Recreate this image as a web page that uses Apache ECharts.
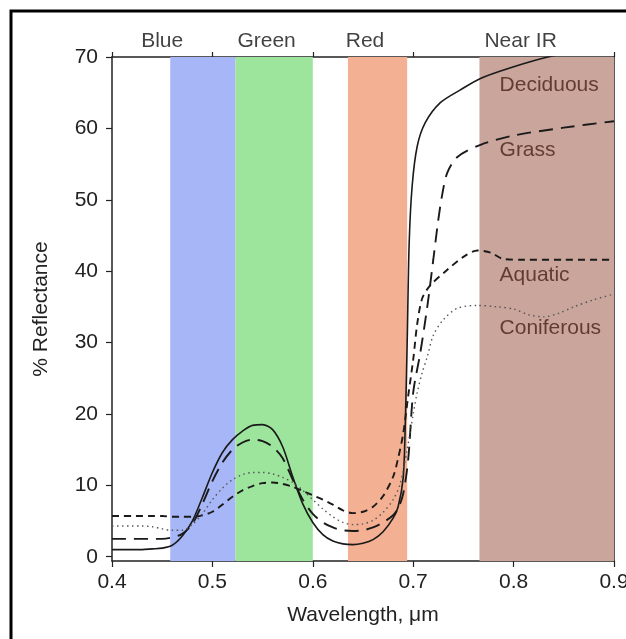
<!DOCTYPE html>
<html>
<head>
<meta charset="utf-8">
<script src="https://cdn.jsdelivr.net/npm/echarts@6/dist/echarts.min.js"></script>
<style>
html,body{margin:0;padding:0;background:#fff;}
#c{width:626px;height:639px;}
</style>
</head>
<body>
<div id="c"></div>
<script>
// ---- data ----
var bandNames = ['Blue', 'Green', 'Red', 'Near IR'];
var bandLabelX = [0.45, 0.554, 0.652, 0.807];
var bandLabelY = [72.2, 72.2, 72.2, 72.2];
var colorBandStart = [0.458, 0.523, 0.635, 0.766];
var colorBandEnd = [0.523, 0.600, 0.694, 0.900];
var topTicks = [0.4, 0.5, 0.6, 0.7, 0.9];
var yTicks = [0, 10, 20, 30, 40, 50, 60, 70];

var decidX = [0.40,0.41,0.42,0.43,0.44,0.45,0.46,0.47,0.48,0.49,0.50,0.51,0.52,0.53,0.54,0.55,0.56,0.57,0.58,0.59,0.60,0.61,0.62,0.63,0.64,0.65,0.66,0.67,0.68,0.685,0.69,0.692,0.694,0.696,0.699,0.704,0.712,0.727,0.747,0.767,0.797,0.834,0.87,0.90];
var decidY = [1.0,1.0,1.0,1.0,1.1,1.2,1.6,2.9,5.0,8.3,11.8,14.6,16.4,17.6,18.4,18.5,17.8,15.4,11.2,7.4,4.8,3.1,2.2,1.8,1.7,1.9,2.4,3.5,5.4,7.0,11,18,30,44,52,57.5,60.8,63.6,65.4,67,68.5,70,71,72];

var grassX = [0.40,0.41,0.42,0.43,0.44,0.45,0.46,0.47,0.48,0.49,0.50,0.51,0.52,0.53,0.54,0.55,0.56,0.57,0.58,0.59,0.60,0.61,0.62,0.63,0.64,0.65,0.66,0.67,0.68,0.685,0.69,0.695,0.70,0.707,0.714,0.72,0.725,0.729,0.734,0.744,0.767,0.80,0.85,0.90];
var grassY = [2.5,2.5,2.5,2.5,2.5,2.5,2.7,3.2,4.6,7.4,10.6,13.2,15.0,16.0,16.4,16.2,15.4,13.8,10.8,8.0,6.0,4.8,4.1,3.7,3.6,3.7,4.1,4.8,5.8,6.8,8.8,13.6,23,28.5,35,41.6,47.2,50.8,53.8,56,57.7,59,60.1,61];

var aquaX = [0.40,0.41,0.42,0.43,0.44,0.45,0.46,0.47,0.48,0.49,0.50,0.51,0.52,0.53,0.54,0.55,0.56,0.57,0.58,0.59,0.60,0.61,0.62,0.63,0.64,0.65,0.66,0.67,0.68,0.685,0.69,0.695,0.70,0.704,0.709,0.717,0.734,0.75,0.764,0.777,0.79,0.81,0.85,0.90];
var aquaY = [5.7,5.7,5.7,5.7,5.7,5.7,5.6,5.6,5.6,5.8,6.3,7.3,8.4,9.3,9.9,10.3,10.4,10.2,9.8,9.2,8.6,8.0,7.3,6.5,6.1,6.3,7.0,8.5,11.2,13.8,17.2,22.5,27.6,32.6,36.2,38,40.2,42,42.9,42.6,41.7,41.6,41.6,41.6];

var conifX = [0.40,0.41,0.42,0.43,0.44,0.45,0.46,0.47,0.48,0.49,0.50,0.51,0.52,0.53,0.54,0.55,0.56,0.57,0.58,0.59,0.60,0.61,0.62,0.63,0.64,0.65,0.66,0.67,0.68,0.687,0.694,0.70,0.704,0.709,0.714,0.72,0.73,0.744,0.764,0.784,0.80,0.815,0.83,0.845,0.86,0.88,0.90];
var conifY = [4.3,4.3,4.3,4.3,4.2,3.9,3.7,3.7,4.5,6.0,8.0,9.6,10.8,11.5,11.8,11.8,11.6,11.1,10.4,9.3,8.0,6.7,5.6,4.8,4.5,4.6,5.1,6.2,8.0,10.2,15,20,23,25.8,28,31,33.2,34.8,35.2,35,34.7,33.9,33.6,34.1,35,36,36.8];

var curveNames = ['Deciduous', 'Grass', 'Aquatic', 'Coniferous'];
var curveLabelX = [0.786, 0.786, 0.786, 0.786];
var curveLabelY = [66.1, 57.0, 39.5, 32.0];

// ---- build ----
function pairs(xs, ys){ return xs.map(function(x,i){ return [x, ys[i]]; }); }
var bandColors = ['#a6b6f6', '#9de49c', '#f3b093', '#c9a59b'];
var markData = colorBandStart.map(function(s,i){
  return [{xAxis: s, itemStyle:{color: bandColors[i], opacity:1}}, {xAxis: colorBandEnd[i]}];
});
var font = 'Liberation Sans, Arial, Helvetica, sans-serif';
var lineBase = {type:'line', showSymbol:false, symbol:'none', smooth:0.3, z:5};

var chart = echarts.init(document.getElementById('c'), null, {renderer:'canvas'});
chart.setOption({
  animation:false,
  backgroundColor:'#ffffff',
  grid:{left:112, right:12, top:57, bottom:78, containLabel:false, outerBoundsMode:'none'},
  xAxis:[{
    type:'value', position:'bottom', min:0.4, max:0.9, interval:0.1,
    axisLine:{show:true, onZero:false, lineStyle:{color:'#222', width:1.5}},
    axisTick:{show:true, length:6, lineStyle:{color:'#222', width:1.2}},
    axisLabel:{color:'#222', fontSize:21, fontFamily:font, margin:11,
      formatter:function(v){return v.toFixed(1);}},
    splitLine:{show:false},
    name:'Wavelength, μm', nameLocation:'middle', nameGap:44,
    nameTextStyle:{color:'#222', fontSize:21, fontFamily:font}
  },{
    type:'value', position:'top', min:0.4, max:0.9,
    axisLine:{show:true, onZero:false, lineStyle:{color:'#222', width:1.5}},
    axisTick:{show:true, length:5, customValues:topTicks, lineStyle:{color:'#222', width:1.2}},
    axisLabel:{show:false}, splitLine:{show:false}
  }],
  yAxis:[{
    type:'value', position:'left', min:-0.6, max:70,
    axisLine:{show:true, onZero:false, lineStyle:{color:'#222', width:1.5}},
    axisTick:{show:true, length:6, customValues:yTicks, lineStyle:{color:'#222', width:1.2}},
    axisLabel:{color:'#222', fontSize:21, fontFamily:font, margin:14, customValues:yTicks},
    splitLine:{show:false},
    name:'% Reflectance', nameLocation:'middle', nameGap:60,
    nameTextStyle:{color:'#222', fontSize:21, fontFamily:font}
  },{
    type:'value', position:'right', min:-0.6, max:70,
    axisLine:{show:true, onZero:false, lineStyle:{color:'#222', width:1.5}},
    axisTick:{show:false}, axisLabel:{show:false}, splitLine:{show:false}
  }],
  series:[
    Object.assign({}, lineBase, {name:'Deciduous', data:pairs(decidX, decidY),
      lineStyle:{color:'#1a1a1a', width:1.6, type:'solid'},
      markArea:{silent:true, z:1, data:markData}}),
    Object.assign({}, lineBase, {name:'Grass', data:pairs(grassX, grassY),
      lineStyle:{color:'#1a1a1a', width:1.9, type:[14,8]}}),
    Object.assign({}, lineBase, {name:'Aquatic', data:pairs(aquaX, aquaY),
      lineStyle:{color:'#1a1a1a', width:1.9, type:[7,5]}}),
    Object.assign({}, lineBase, {name:'Coniferous', data:pairs(conifX, conifY),
      lineStyle:{color:'#555', width:1.4, type:[1.5,3.5]}}),
    {type:'scatter', clip:false, symbolSize:0, silent:true, z:6,
      data: bandNames.map(function(n,i){ return {value:[bandLabelX[i], bandLabelY[i]], name:n}; }),
      label:{show:true, position:'inside', formatter:'{b}', color:'#111', fontSize:21, fontFamily:font}},
    {type:'scatter', clip:false, symbolSize:0, silent:true, z:6,
      data: curveNames.map(function(n,i){ return {value:[curveLabelX[i], curveLabelY[i]], name:n}; }),
      label:{show:true, position:'right', distance:0, formatter:'{b}', color:'#4a2216', fontSize:21, fontFamily:font}}
  ],
  graphic:[
    {type:'polyline', shape:{points:[[11,639],[11,11],[626,11]]}, style:{stroke:'#000', lineWidth:3, fill:null}, z:100}
  ]
});
</script>
</body>
</html>
